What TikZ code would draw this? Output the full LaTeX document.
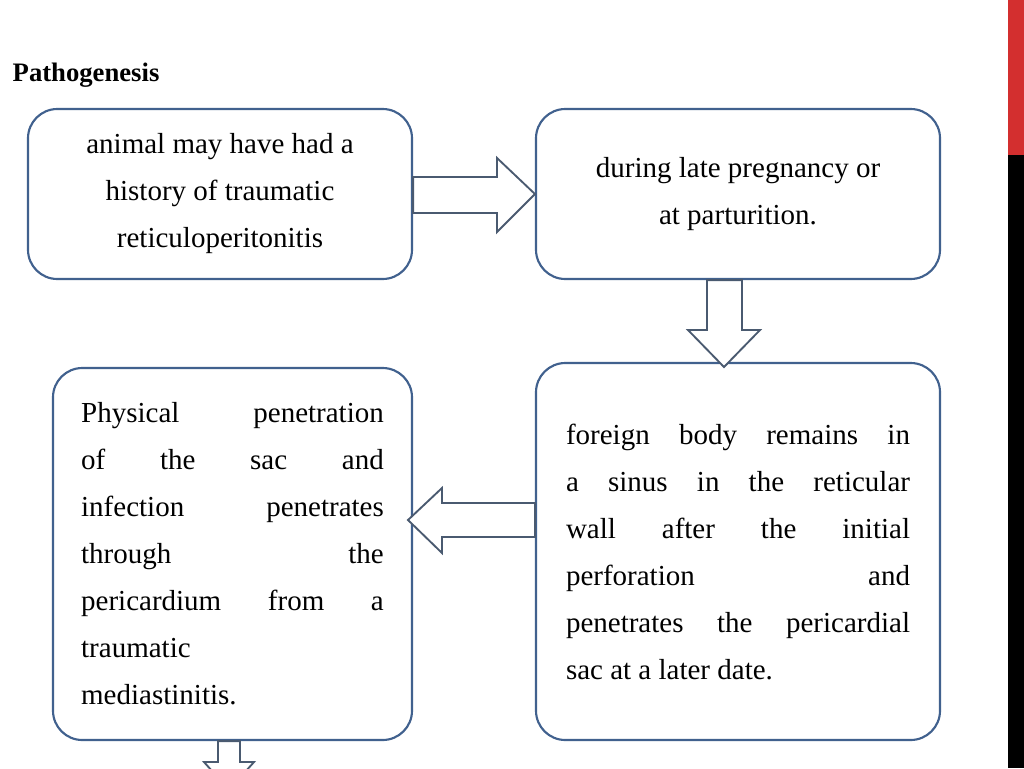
\documentclass[tikz,border=0pt]{standalone}
\usepackage{fontspec}
\setmainfont{Liberation Serif}
\definecolor{boxline}{HTML}{41618E}
\definecolor{arrline}{HTML}{4A5A70}
\definecolor{barred}{HTML}{D32F2F}
\tikzset{
  stepbox/.style={draw=boxline, line width=1.6pt, rounded corners=22pt, fill=white,
    inner sep=0pt, align=center, font=\fontsize{21.75}{35.25}\selectfont},
  blockarrow/.style={draw=arrline, line width=1.4pt, fill=white, line join=miter}
}
\newcommand{\jline}[2]{\makebox[#1][s]{#2}}
\begin{document}
\begin{tikzpicture}[x=0.75pt, y=-0.75pt]
    \useasboundingbox (0,0) rectangle (1024,768);
    \clip (0,0) rectangle (1024,768);
    \fill[white] (0,0) rectangle (1024,768);
    % side bar
    \fill[barred] (1008,0) rectangle (1024,155);
    \fill[black] (1008,155) rectangle (1024,768);
    % title
    \node[anchor=west, font=\fontsize{20}{24}\selectfont\bfseries] (title) at (8,75) {Pathogenesis};
    % boxes
    \node[stepbox, minimum width=288pt, minimum height=127.5pt] (history) at (220,194)
      {animal may have had a\\history of traumatic\\reticuloperitonitis};
    \node[stepbox, minimum width=303pt, minimum height=127.5pt] (late) at (738,194)
      {during late pregnancy or\\at parturition.};
    \node[stepbox, minimum width=303pt, minimum height=282.75pt] (foreign) at (738,551.5)
      {\parbox{258pt}{\jline{258pt}{foreign body remains in}\\
       \jline{258pt}{a sinus in the reticular}\\
       \jline{258pt}{wall after the initial}\\
       \jline{258pt}{perforation and}\\
       \jline{258pt}{penetrates the pericardial}\\
       sac at a later date.}};
    \node[stepbox, minimum width=269.25pt, minimum height=279pt] (physical) at (232.5,554)
      {\parbox{227pt}{\jline{227pt}{Physical penetration}\\
       \jline{227pt}{of the sac and}\\
       \jline{227pt}{infection penetrates}\\
       \jline{227pt}{through the}\\
       \jline{227pt}{pericardium from a}\\
       traumatic\\
       mediastinitis.}};
    % block arrows
    \draw[blockarrow] (history.east |- 0,177) -- (497,177) -- (497,158) -- (late.west)
      -- (497,232) -- (497,213) -- (history.east |- 0,213) -- cycle;
    \draw[blockarrow] (707,0 |- late.south) -- (707,330) -- (688,330) -- (724,367)
      -- (760,330) -- (742,330) -- (742,0 |- late.south) -- cycle;
    \draw[blockarrow] (foreign.west |- 0,503) -- (442,503) -- (442,488) -- (408,520)
      -- (442,553) -- (442,537) -- (foreign.west |- 0,537) -- cycle;
    \draw[blockarrow] (218,0 |- physical.south) -- (218,762) -- (204,762) -- (229,790)
      -- (254,762) -- (240,762) -- (240,0 |- physical.south) -- cycle;
\end{tikzpicture}
\end{document}
